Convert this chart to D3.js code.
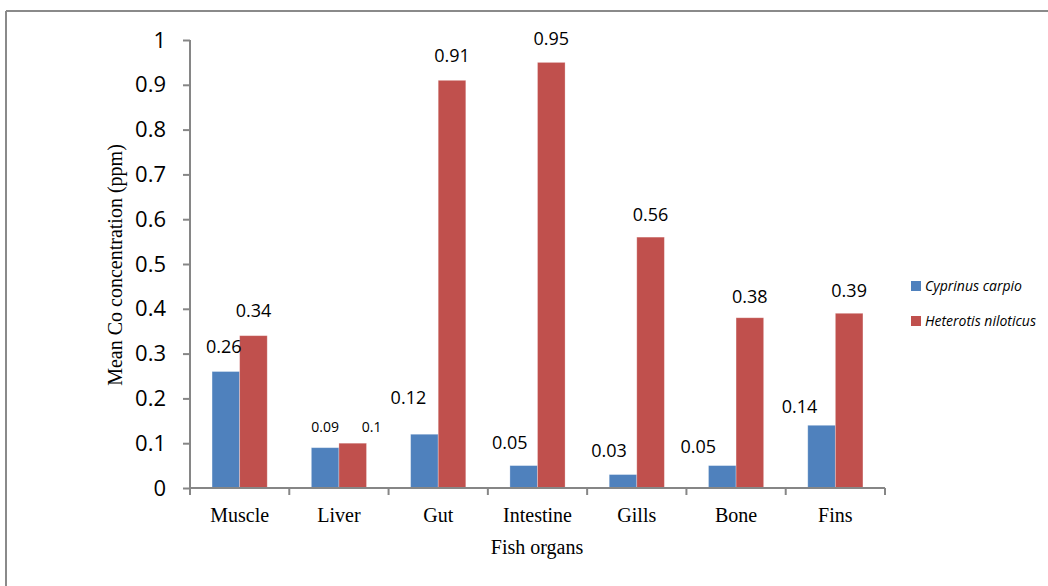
<!DOCTYPE html>
<html>
<head>
<meta charset="utf-8">
<script src="https://cdn.jsdelivr.net/npm/d3@7"></script>
<style>
  html, body { margin: 0; padding: 0; background: #fff; }
  svg { display: block; }
</style>
</head>
<body>
<svg id="chart" width="1048" height="586"></svg>
<script>
// ---- data ----
const categories = ["Muscle", "Liver", "Gut", "Intestine", "Gills", "Bone", "Fins"];
const seriesNames = ["Cyprinus carpio", "Heterotis niloticus"];
const cyprinus = [0.26, 0.09, 0.12, 0.05, 0.03, 0.05, 0.14];
const heterotis = [0.34, 0.10, 0.91, 0.95, 0.56, 0.38, 0.39];
const yTicks = [0, 0.1, 0.2, 0.3, 0.4, 0.5, 0.6, 0.7, 0.8, 0.9, 1];

// ---- layout / style (not data) ----
const colors = ["#4F81BD", "#C0504D"];
// manual nudges of data labels (dx, baseline offset above bar top), like the hand-placed labels
const labelNudgeBlue = [[-2, 19], [0, 16], [-16, 30], [-14, 17], [-14, 18], [-24, 13], [-22, 12]];
const labelNudgeRed  = [[0, 19], [19, 11], [0, 18], [0, 17], [0, 16], [0, 15], [0, 16]];
const labelSizeBlue = [18, 14, 18, 18, 18, 18, 18];
const labelSizeRed  = [18, 14, 18, 18, 18, 18, 18];

const svg = d3.select("#chart");
const axisColor = "#868686";
const numFont = "'Open Sans', 'Liberation Sans', sans-serif";
const serif = "'Liberation Serif', 'Times New Roman', serif";

// outer frame (top and left visible)
svg.append("line").attr("x1", 6).attr("x2", 1048).attr("y1", 11).attr("y2", 11)
  .attr("stroke", "#8a8a8a").attr("stroke-width", 2);
svg.append("line").attr("x1", 6).attr("x2", 6).attr("y1", 11).attr("y2", 586)
  .attr("stroke", "#8a8a8a").attr("stroke-width", 2);

const x0 = 190, x1 = 885, yTop = 40, yBot = 488;
const x = d3.scaleBand().domain(categories).range([x0, x1]).paddingInner(0).paddingOuter(0);
const xs = d3.scaleBand().domain(seriesNames).range([0, x.bandwidth()]).paddingInner(0).paddingOuter(0.8);
const y = d3.scaleLinear().domain([0, 1]).range([yBot, yTop]);

const data = [cyprinus, heterotis];

// bars
data.forEach((vals, si) => {
  svg.append("g").selectAll("rect").data(vals).join("rect")
    .attr("x", (d, i) => x(categories[i]) + xs(seriesNames[si]))
    .attr("y", d => y(d))
    .attr("width", xs.bandwidth())
    .attr("height", d => yBot - y(d))
    .attr("fill", colors[si])
    .attr("stroke", "#ffffff").attr("stroke-opacity", 0.35).attr("stroke-width", 0.8);
});

// y axis
const yAxis = d3.axisLeft(y).tickValues(yTicks).tickSize(7).tickPadding(17)
  .tickFormat(d => d3.format("~g")(d));
const gy = svg.append("g").attr("transform", `translate(${x0},0)`).call(yAxis);
gy.select(".domain").attr("stroke", axisColor).attr("stroke-width", 2)
  .attr("d", `M0,${yTop}V${yBot}`);
gy.selectAll(".tick line").attr("stroke", axisColor).attr("stroke-width", 2);
gy.selectAll(".tick text").attr("fill", "#000").style("font-family", numFont).style("font-size", "22px");

// x axis
const xAxis = d3.axisBottom(x).tickSize(0).tickPadding(20);
const gx = svg.append("g").attr("transform", `translate(0,${yBot})`).call(xAxis);
gx.select(".domain").attr("stroke", axisColor).attr("stroke-width", 2).attr("d", `M${x0},0H${x1}`);
gx.selectAll(".tick text").attr("fill", "#000").style("font-family", serif).style("font-size", "20px");
// boundary tick marks between categories
const bounds = categories.map(c => x(c)).concat([x1]);
gx.selectAll("line.bound").data(bounds).join("line").attr("class", "bound")
  .attr("x1", d => d).attr("x2", d => d).attr("y1", 0).attr("y2", 7)
  .attr("stroke", axisColor).attr("stroke-width", 2);

// data labels
function labels(vals, si, nudge, sizes) {
  svg.append("g").selectAll("text").data(vals).join("text")
    .attr("x", (d, i) => x(categories[i]) + xs(seriesNames[si]) + xs.bandwidth() / 2 + nudge[i][0])
    .attr("y", (d, i) => y(d) - nudge[i][1])
    .attr("text-anchor", "middle")
    .style("font-family", numFont)
    .style("font-size", (d, i) => sizes[i] + "px")
    .attr("fill", "#000")
    .text(d => d3.format("~g")(d));
}
labels(cyprinus, 0, labelNudgeBlue, labelSizeBlue);
labels(heterotis, 1, labelNudgeRed, labelSizeRed);

// axis titles
svg.append("text").attr("transform", `translate(122,265) rotate(-90)`)
  .attr("text-anchor", "middle").style("font-family", serif).style("font-size", "20px")
  .text("Mean Co concentration (ppm)");
svg.append("text").attr("x", 537).attr("y", 554).attr("text-anchor", "middle")
  .style("font-family", serif).style("font-size", "20px").text("Fish organs");

// legend
const leg = svg.append("g").attr("transform", "translate(911,281)");
seriesNames.forEach((n, i) => {
  const g = leg.append("g").attr("transform", `translate(0,${i * 35})`);
  g.append("rect").attr("width", 10).attr("height", 10).attr("fill", colors[i]);
  g.append("text").attr("x", 14).attr("y", 10).style("font-family", numFont)
    .style("font-size", "14px").style("font-style", "italic").text(n);
});
</script>
</body>
</html>
